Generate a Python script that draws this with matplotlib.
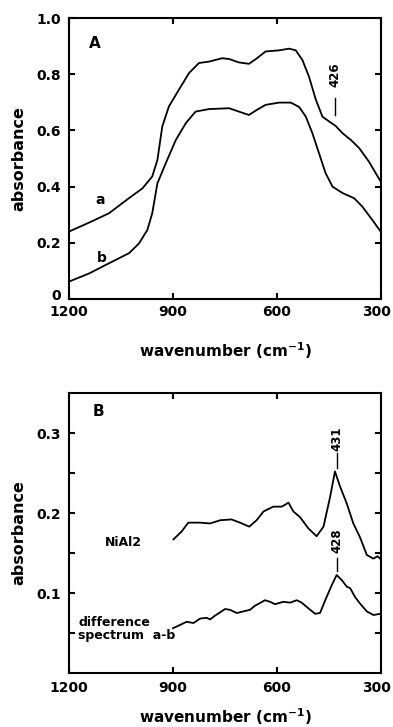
import matplotlib
matplotlib.use("Agg")
import matplotlib.pyplot as plt
import matplotlib.transforms as mtransforms

# ---------------- data ----------------
# panel A, spectra a and b (wavenumber in cm-1, absorbance)
wnA = [1200, 1142, 1085, 1027, 988, 960, 945, 931, 912, 883, 854, 825, 796, 758,
       738, 710, 681, 661, 633, 594, 565, 546, 527, 508, 488, 469, 450, 431, 411,
       387, 363, 335, 301]
absA = [0.240, 0.272, 0.305, 0.359, 0.394, 0.436, 0.495, 0.614, 0.685, 0.745,
        0.804, 0.840, 0.845, 0.857, 0.854, 0.842, 0.837, 0.854, 0.881, 0.885,
        0.891, 0.885, 0.851, 0.792, 0.709, 0.649, 0.632, 0.616, 0.590, 0.566,
        0.537, 0.489, 0.418]

wnB = [1200, 1142, 1085, 1027, 998, 974, 960, 945, 921, 892, 863, 835, 796, 738,
       710, 681, 661, 633, 594, 560, 536, 517, 498, 479, 460, 440, 411, 378, 354,
       325, 301]
absB = [0.062, 0.091, 0.127, 0.163, 0.198, 0.246, 0.305, 0.412, 0.483, 0.566,
        0.626, 0.667, 0.676, 0.679, 0.667, 0.655, 0.671, 0.691, 0.699, 0.699,
        0.683, 0.649, 0.590, 0.519, 0.448, 0.400, 0.377, 0.359, 0.329, 0.281, 0.240]

# panel B, NiAl2 spectrum and difference spectrum a-b
wnNi = [899, 875, 856, 822, 793, 764, 731, 707, 680, 659, 639, 611, 586, 567,
        553, 534, 510, 486, 466, 447, 433, 418, 399, 380, 361, 341, 322, 310, 303]
absNi = [0.167, 0.177, 0.188, 0.188, 0.187, 0.191, 0.192, 0.188, 0.183, 0.191,
         0.202, 0.208, 0.208, 0.213, 0.202, 0.195, 0.181, 0.171, 0.183, 0.220,
         0.252, 0.233, 0.212, 0.187, 0.170, 0.1475, 0.143, 0.146, 0.143]

wnD = [900, 880, 861, 841, 822, 803, 793, 778, 760, 750, 736, 716, 697, 678, 664,
       649, 635, 620, 606, 582, 562, 543, 529, 510, 490, 476, 461, 442, 428, 413,
       399, 389, 375, 361, 341, 322, 303]
absD = [0.056, 0.060, 0.064, 0.0625, 0.068, 0.069, 0.067, 0.072, 0.077, 0.080,
        0.079, 0.075, 0.077, 0.079, 0.084, 0.0875, 0.091, 0.089, 0.086, 0.089,
        0.088, 0.091, 0.088, 0.081, 0.074, 0.075, 0.091, 0.110, 0.1225, 0.116,
        0.108, 0.106, 0.095, 0.087, 0.077, 0.0725, 0.074]

xticksAll = [1200, 900, 600, 300]
yticksA = [0, 0.2, 0.4, 0.6, 0.8, 1.0]
yticklabA = ["0", "0.2", "0.4", "0.6", "0.8", "1.0"]
yticksB = [0.05, 0.1, 0.15, 0.2, 0.25, 0.3]
yticklabB = ["", "0.1", "", "0.2", "", "0.3"]

plt.rcParams['font.family'] = ['DejaVu Sans']
plt.rcParams['font.weight'] = 'bold'

fig = plt.figure(figsize=(3.93, 7.27), dpi=100)
axA = fig.add_axes([0.1756, 0.5887, 0.794, 0.3865])
axB = fig.add_axes([0.1756, 0.0743, 0.794, 0.385])

def nudge(label, dx, dy):
    # shift one tick label by dx, dy points
    label.set_transform(label.get_transform() +
                        mtransforms.ScaledTranslation(dx / 72, dy / 72, fig.dpi_scale_trans))

def style_axis(ax, pad_x):
    for s in ax.spines.values():
        s.set_linewidth(1.5)
    ax.tick_params(direction='in', top=True, right=True, length=4, width=1.5,
                   labelsize=10)
    ax.tick_params(axis='x', pad=pad_x)
    ax.tick_params(axis='y', pad=6)
    ax.set_xlim(1200, 300)
    ax.set_xticks(xticksAll)
    ax.set_ylabel("absorbance", fontsize=11.5, fontweight='bold', labelpad=7)
    # keep the "300" inside the figure edge
    nudge(ax.get_xticklabels()[-1], -3, 0)

#-------------------------- panel A --------------------------
axA.plot(wnA, absA, color='black', lw=1.3)
axA.plot(wnB, absB, color='black', lw=1.3)
style_axis(axA, 4)
axA.set_ylim(0, 1.0)
axA.set_yticks(yticksA)
axA.set_yticklabels(yticklabA)
# lift the "0" a little so it clears the 1200 below it
nudge(axA.get_yticklabels()[0], 0, 3)
axA.set_xlabel("wavenumber (cm$^{-1}$)", fontsize=11, fontweight='bold', labelpad=16)
axA.text(1127, 0.91, "A", fontsize=11, fontweight='bold', ha='center', va='center')
axA.text(1110, 0.353, "a", fontsize=10, fontweight='bold', ha='center', va='center')
axA.text(1106, 0.145, "b", fontsize=10, fontweight='bold', ha='center', va='center')
axA.text(433, 0.80, "426", fontsize=8.5, fontweight='bold', rotation=90, ha='center', va='center')
axA.plot([433, 433], [0.655, 0.715], color='black', lw=1.0)

#-------------------------- panel B --------------------------
axB.plot(wnNi, absNi, color='black', lw=1.3)
axB.plot(wnD, absD, color='black', lw=1.3)
style_axis(axB, 6)
axB.set_ylim(0, 0.35)
axB.set_yticks(yticksB)
axB.set_yticklabels(yticklabB)
axB.set_xlabel("wavenumber (cm$^{-1}$)", fontsize=11, fontweight='bold', labelpad=8)
axB.text(1116, 0.327, "B", fontsize=11, fontweight='bold', ha='center', va='center')
axB.text(1043, 0.163, "NiAl2", fontsize=9, fontweight='bold', ha='center', va='center')
axB.text(1173, 0.055, "difference\nspectrum  a-b", fontsize=9, fontweight='bold',
         ha='left', va='center', linespacing=1.0)
axB.text(428, 0.293, "431", fontsize=8.5, fontweight='bold', rotation=90, ha='center', va='center')
axB.plot([428, 428], [0.256, 0.275], color='black', lw=1.0)
axB.text(428, 0.165, "428", fontsize=8.5, fontweight='bold', rotation=90, ha='center', va='center')
axB.plot([428, 428], [0.127, 0.144], color='black', lw=1.0)

fig.savefig("out.png", dpi=100)
